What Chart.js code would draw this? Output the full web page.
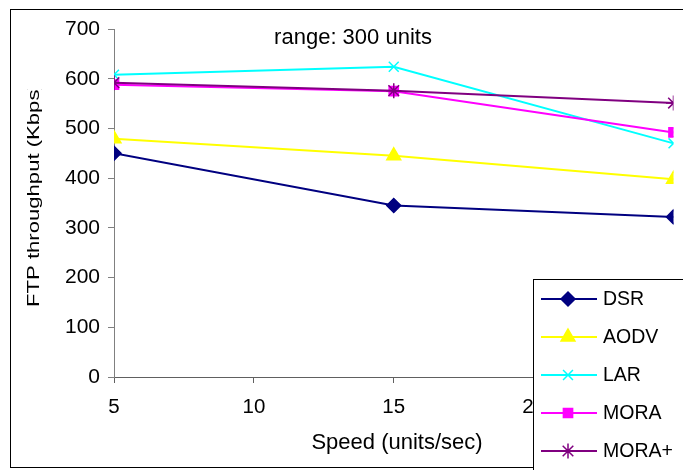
<!DOCTYPE html>
<html><head><meta charset="utf-8">
<script src="https://cdn.jsdelivr.net/npm/chart.js@4"></script>
<style>html,body{margin:0;padding:0;background:#fff;overflow:hidden}</style>
</head><body>
<canvas id="c" width="683" height="470"></canvas>
<script>
// ---- data ----
const speeds = [5, 15, 25];
const xTickValues = [5, 10, 15, 20, 25];
const yTickValues = [0, 100, 200, 300, 400, 500, 600, 700];
const seriesNames = ['DSR', 'AODV', 'LAR', 'MORA', 'MORA+'];
const dsr = [450, 345, 322];
const aodv = [479, 445, 398];
const lar = [608, 624, 470];
const mora = [588, 575, 492];
const moraPlus = [592, 576, 551];
const titleText = 'range: 300 units';
const xTitle = 'Speed (units/sec)';
const yTitle = 'FTP throughput (Kbps)';

const FONT = '"Liberation Sans", Arial, sans-serif';
const styles = [
  {color:'#000080', pointStyle:'rectRot', radius:7, order:4},
  {color:'#FFFF00', pointStyle:'triangle', radius:8, order:3},
  {color:'#00FFFF', pointStyle:'crossRot', radius:7, order:2},
  {color:'#FF00FF', pointStyle:'rect', radius:6.5, order:1},
  {color:'#800080', pointStyle:'star', radius:7.5, order:0}
];
const values = [dsr, aodv, lar, mora, moraPlus];

const datasets = seriesNames.map((name, i) => ({
  label: name,
  data: speeds.map((s, j) => ({x: s, y: values[i][j]})),
  borderColor: styles[i].color,
  backgroundColor: styles[i].color,
  pointBackgroundColor: styles[i].color,
  pointBorderColor: styles[i].color,
  borderWidth: 2,
  pointBorderWidth: 1.5,
  pointStyle: styles[i].pointStyle,
  pointRadius: styles[i].radius,
  tension: 0,
  order: styles[i].order
}));

const extras = {
  id: 'extras',
  beforeDraw(chart) {
    const ctx = chart.ctx;
    ctx.save();
    ctx.fillStyle = '#fff';
    ctx.fillRect(0, 0, chart.width, chart.height);
    ctx.strokeStyle = '#000';
    ctx.lineWidth = 1;
    ctx.strokeRect(10.5, 9.5, 720, 458);
    ctx.restore();
  },
  afterDraw(chart) {
    const ctx = chart.ctx;
    ctx.save();
    ctx.fillStyle = '#000';
    ctx.font = '22px ' + FONT;
    ctx.textAlign = 'center';
    ctx.textBaseline = 'middle';
    ctx.fillText(titleText, 353, 38);
    ctx.fillText(xTitle, 397, 443);
    // y title (clipped at top)
    ctx.save();
    ctx.beginPath();
    ctx.rect(0, 89, 100, 400);
    ctx.clip();
    ctx.translate(39, 307);
    ctx.rotate(-Math.PI / 2);
    ctx.scale(1.3, 1);
    ctx.textAlign = 'left';
    ctx.textBaseline = 'alphabetic';
    ctx.font = '17px ' + FONT;
    ctx.fillText(yTitle, 0, 0);
    ctx.restore();
    // legend
    const lx = 533.5, ly = 279.5;
    ctx.fillStyle = '#fff';
    ctx.fillRect(lx, ly, 200, 200);
    ctx.strokeStyle = '#000';
    ctx.lineWidth = 1;
    ctx.strokeRect(lx, ly, 200, 200);
    chart.data.datasets.forEach((ds, i) => {
      const y = 299 + i * 38;
      ctx.strokeStyle = ds.borderColor;
      ctx.lineWidth = 2;
      ctx.beginPath();
      ctx.moveTo(541, y);
      ctx.lineTo(597, y);
      ctx.stroke();
      ctx.fillStyle = ds.borderColor;
      ctx.lineWidth = 1.5;
      Chart.helpers.drawPoint(ctx, {pointStyle: ds.pointStyle, radius: ds.pointRadius, borderWidth: 1.5, rotation: 0}, 568, y);
      ctx.fillStyle = '#000';
      ctx.font = '19.5px ' + FONT;
      ctx.textAlign = 'left';
      ctx.textBaseline = 'middle';
      ctx.fillText(ds.label, 603, y + 1);
    });
    ctx.restore();
  }
};

new Chart(document.getElementById('c'), {
  type: 'line',
  data: { datasets },
  options: {
    responsive: false,
    animation: false,
    events: [],
    layout: { padding: { left: 0, top: 29, right: 5, bottom: 0 } },
    plugins: { legend: { display: false }, tooltip: { enabled: false } },
    scales: {
      x: {
        type: 'linear', min: 5, max: 25,
        afterBuildTicks(s) { s.ticks = xTickValues.map(v => ({value: v})); },
        afterFit(s) { s.height = 470 - 377; s.paddingLeft = 0; s.paddingRight = 0; },
        grid: { drawOnChartArea: false, drawTicks: true, tickLength: 6, color: '#606060' },
        border: { color: '#606060', width: 1 },
        ticks: { color: '#000', font: { family: FONT, size: 20.5 }, padding: 12, maxRotation: 0, autoSkip: false }
      },
      y: {
        min: 0, max: 700,
        afterBuildTicks(s) { s.ticks = yTickValues.map(v => ({value: v})); },
        afterFit(s) { s.width = 114; s.paddingTop = 0; s.paddingBottom = 0; },
        grid: { drawOnChartArea: false, drawTicks: true, tickLength: 6, color: '#808080' },
        border: { color: '#808080', width: 1 },
        ticks: { color: '#000', font: { family: FONT, size: 21 }, padding: 8 }
      }
    }
  },
  plugins: [extras]
});
</script>
</body></html>
